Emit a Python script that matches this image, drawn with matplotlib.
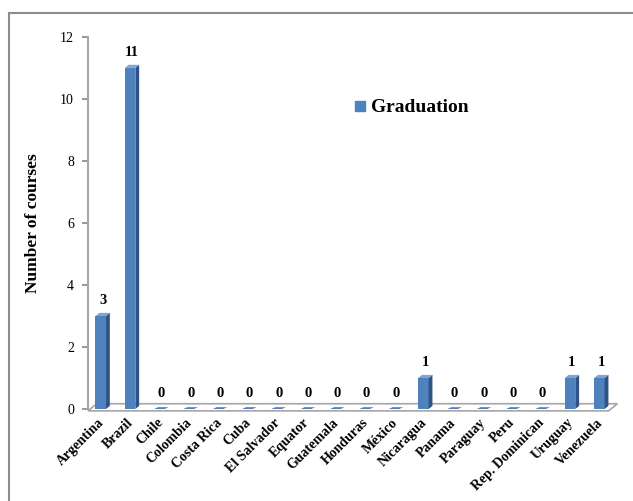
import matplotlib
matplotlib.use("Agg")
import matplotlib.pyplot as plt
import matplotlib.transforms as mtransforms
from matplotlib.patches import Polygon
from matplotlib.lines import Line2D

countries = ["Argentina", "Brazil", "Chile", "Colombia", "Costa Rica", "Cuba",
             "El Salvador", "Equator", "Guatemala", "Honduras", "México",
             "Nicaragua", "Panama", "Paraguay", "Peru", "Rep. Dominican",
             "Uruguay", "Venezuela"]
graduation = [3, 11, 0, 0, 0, 0, 0, 0, 0, 0, 0, 1, 0, 0, 0, 0, 1, 1]
yticks = [0, 2, 4, 6, 8, 10, 12]

front = "#4F81BD"
side = "#2F5386"
top = "#7FA3D4"
serif = "Liberation Serif"

fig = plt.figure(figsize=(6.33, 5.01), dpi=100)
ax = fig.add_axes([0.139, 0.1836, 0.834, 0.7428])

n = len(countries)
ax.set_xlim(-0.5, n - 0.5)
ax.set_ylim(0, 12)

# floor
floor = Polygon([(-0.5, -0.06), (n - 0.75, -0.06), (n - 0.45, 0.17), (-0.2, 0.17)],
                closed=True, facecolor="white", edgecolor="#A6A6A6", lw=1.2,
                clip_on=False, zorder=1)
ax.add_patch(floor)

fw, d, dy = 0.36, 0.13, 0.1
for i, v in enumerate(graduation):
    x0 = i - 0.245
    x1 = x0 + fw
    if v > 0:
        ax.add_patch(Polygon([(x0, 0), (x1, 0), (x1, v), (x0, v)],
                             facecolor=front, edgecolor="none", zorder=3, clip_on=False))
        ax.add_patch(Polygon([(x1, 0), (x1 + d, dy), (x1 + d, v + dy), (x1, v)],
                             facecolor=side, edgecolor="none", zorder=3, clip_on=False))
        ax.add_patch(Polygon([(x0, v), (x0 + d, v + dy), (x1 + d, v + dy), (x1, v)],
                             facecolor=top, edgecolor="none", zorder=3, clip_on=False))
    else:
        ax.add_patch(Polygon([(x0, 0.0), (x0 + d, 0.06), (x1 + d, 0.06), (x1, 0.0)],
                             facecolor=front, edgecolor="none", zorder=3, clip_on=False))
    ax.text(i, v + 0.5, str(v), ha="center", va="center", fontsize=10.5,
            fontweight="bold", family=serif, zorder=4)

ax.set_xticks(range(n))
ax.set_xticklabels(countries, rotation=45, ha="right", rotation_mode="anchor",
                   fontsize=10, fontweight="bold", family=serif)
ax.tick_params(axis="x", length=0, pad=5)
shift = mtransforms.ScaledTranslation(-5 / 100, 0, fig.dpi_scale_trans)
for lbl in ax.get_xticklabels():
    lbl.set_transform(lbl.get_transform() + shift)
ax.set_yticks(yticks)
ax.set_yticklabels([str(t) for t in yticks], fontsize=10, family=serif)
ax.tick_params(axis="y", length=4, color="#868686", width=1.2, pad=6)

for s in ["top", "right", "bottom"]:
    ax.spines[s].set_visible(False)
ax.spines["left"].set_color("#A6A6A6")
ax.spines["left"].set_linewidth(1.5)

ax.set_ylabel("Number of courses", fontsize=12.5, fontweight="bold", family=serif,
              labelpad=14)

# legend
ax.legend(handles=[Line2D([], [], marker="s", color=front, ls="none", markersize=7)],
          labels=["Graduation"], loc="center left", bbox_to_anchor=(0.5, 0.81),
          frameon=False, handletextpad=0.2, handlelength=0.8, borderpad=0,
          borderaxespad=0, prop={"family": serif, "weight": "bold", "size": 14})

# outer frame
fig.add_artist(Line2D([9 / 633, 9 / 633], [0, 1 - 13 / 501], transform=fig.transFigure,
                      color="#8C8C8C", lw=1.5))
fig.add_artist(Line2D([9 / 633, 1], [1 - 13 / 501, 1 - 13 / 501], transform=fig.transFigure,
                      color="#8C8C8C", lw=1.5))

fig.savefig("out.png", dpi=100)
